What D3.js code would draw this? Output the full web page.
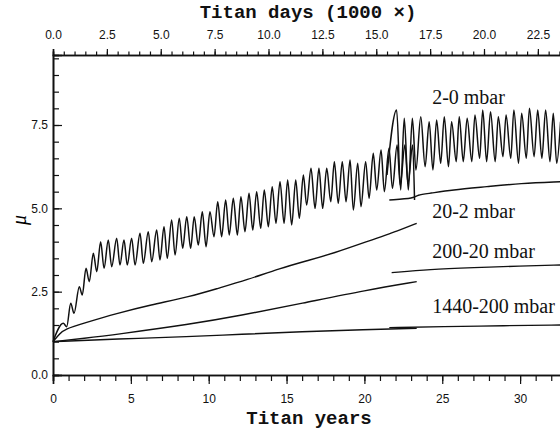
<!DOCTYPE html>
<html>
<head>
<meta charset="utf-8">
<script src="https://cdn.jsdelivr.net/npm/d3@7"></script>
<style>
  body { margin: 0; background: #fff; }
  .tick-label { font-family: "Liberation Sans", Arial, sans-serif; font-size: 12px; fill: #111; }
  .axis-title { font-family: "Liberation Mono", "DejaVu Sans Mono", monospace; font-weight: bold; font-size: 19px; fill: #111; }
  .series-label { font-family: "Liberation Serif", "Times New Roman", serif; font-size: 20px; fill: #111; }
</style>
</head>
<body>
<div id="chart"></div>
<script>
// mu.js

const chart_w = 560;
const chart_h = 433;

// 2-0 mbar, first run [Titan years, mu] (peaks and troughs)
const mu2_0a = [
    [0, 1.0], [0.66, 1.55], [0.88, 1.45], [1.14, 2.15], [1.35, 1.85], [1.69, 2.65], [1.88, 2.4],
    [2.12, 3.2], [2.33, 2.8], [2.59, 3.65], [2.81, 3.1], [3.06, 4.0], [3.28, 3.2], [3.55, 4.05],
    [3.77, 3.25], [4.09, 4.1], [4.30, 3.3], [4.56, 4.05], [4.77, 3.3], [5.05, 4.1], [5.27, 3.3],
    [5.59, 4.25], [5.80, 3.35], [6.12, 4.3], [6.34, 3.4], [6.66, 4.35], [6.87, 3.45], [7.13, 4.45],
    [7.34, 3.5], [7.62, 4.65], [7.84, 3.6], [8.11, 4.7], [8.33, 3.8], [8.59, 4.75], [8.84, 3.8],
    [9.07, 4.75], [9.33, 3.9], [9.59, 4.9], [9.83, 3.85], [10.08, 4.9], [10.34, 4.15], [10.58, 5.2],
    [10.83, 4.15], [11.09, 5.25], [11.32, 4.2], [11.58, 5.3], [11.84, 4.2], [12.07, 5.35], [12.33, 4.3],
    [12.59, 5.45], [12.83, 4.35], [13.08, 5.5], [13.34, 4.4], [13.57, 5.55], [13.83, 4.45], [14.08, 5.65],
    [14.32, 4.55], [14.58, 5.8], [14.84, 4.55], [15.07, 5.85], [15.33, 4.5], [15.59, 5.85], [15.82, 4.7],
    [16.08, 6.0], [16.29, 5.1], [16.57, 6.2], [16.83, 5.0], [17.08, 6.2], [17.32, 5.0], [17.58, 6.2],
    [17.84, 5.2], [18.07, 6.4], [18.32, 5.15], [18.58, 6.4], [18.82, 5.2], [19.08, 6.45], [19.29, 4.95],
    [19.57, 6.35], [19.78, 5.05], [20.08, 6.4], [20.30, 5.3], [20.57, 6.65], [20.79, 5.55], [21.07, 6.75],
    [21.28, 5.5], [21.58, 6.8], [21.8, 5.6], [22.1, 6.9], [22.3, 5.7], [22.6, 6.9], [22.8, 5.75],
    [23.1, 6.9], [23.22, 5.25]
];

// 2-0 mbar, second run
const mu2_0b = [
    [21.45, 6.0], [22.07, 7.95], [22.33, 5.55], [22.56, 7.7], [22.82, 5.55], [23.08, 7.7], [23.31, 6.15],
    [23.62, 7.75], [23.9, 6.25], [24.16, 7.6], [24.4, 6.15], [24.64, 7.65], [24.9, 6.35], [25.13, 7.75],
    [25.4, 6.25], [25.6, 7.6], [25.9, 6.4], [26.09, 7.75], [26.35, 6.4], [26.6, 7.7], [26.9, 6.4],
    [27.1, 7.8], [27.4, 6.5], [27.6, 7.95], [27.85, 6.4], [28.1, 7.9], [28.4, 6.4], [28.6, 7.75],
    [28.9, 6.55], [29.1, 7.8], [29.4, 6.5], [29.6, 7.95], [29.9, 6.35], [30.1, 7.85], [30.4, 6.5],
    [30.6, 8.0], [30.9, 6.55], [31.13, 7.95], [31.4, 6.5], [31.64, 7.95], [31.92, 6.4], [32.13, 7.85],
    [32.35, 6.35], [32.6, 7.6]
];

// 20-2 mbar
const mu20_2a = [
    [0, 1.0], [0.45, 1.25], [0.77, 1.38], [1.95, 1.55], [4.1, 1.85], [6.24, 2.1], [8.8, 2.35],
    [10.6, 2.6], [12.44, 2.85], [14.58, 3.2], [16.5, 3.45], [18.0, 3.65], [20.15, 4.0], [22.3, 4.35],
    [23.36, 4.55]
];
const mu20_2b = [
    [21.6, 5.25], [23.25, 5.3], [23.35, 5.4], [24.2, 5.45], [25.6, 5.55], [27.9, 5.65], [30.0, 5.75],
    [32.6, 5.8]
];

// 200-20 mbar
const mu200_20a = [
    [0, 1.0], [2, 1.1], [4.1, 1.22], [8.8, 1.52], [12, 1.78], [16, 2.15], [20.15, 2.55], [23.36, 2.8]
];
const mu200_20b = [
    [21.75, 3.07], [24.2, 3.17], [27, 3.22], [30, 3.27], [32.6, 3.3]
];

// 1440-200 mbar
const mu1440_200a = [
    [0, 1.0], [4.1, 1.08], [8.8, 1.15], [12, 1.22], [16, 1.3], [20, 1.36], [23.36, 1.4]
];
const mu1440_200b = [
    [21.6, 1.42], [25, 1.45], [29, 1.48], [32.6, 1.5]
];

const seriesLabels = [
    { text: "2-0 mbar", year: 24.35, mu: 8.13 },
    { text: "20-2 mbar", year: 24.35, mu: 4.71 },
    { text: "200-20 mbar", year: 24.35, mu: 3.51 },
    { text: "1440-200 mbar", year: 24.35, mu: 1.86 }
];

const yearMajor = [0, 5, 10, 15, 20, 25, 30];
const daysMajor = [0, 2.5, 5, 7.5, 10, 12.5, 15, 17.5, 20, 22.5];
const muMajor = [0, 2.5, 5, 7.5];

const svg = d3.select("#chart")
    .append("svg")
    .attr("width", chart_w)
    .attr("height", chart_h);

// scales
const x = d3.scaleLinear().domain([0, 35]).range([53, 53 + 15.57 * 35]);
const xTop = d3.scaleLinear().domain([0, 25]).range([53, 53 + 21.55 * 25]);
const y = d3.scaleLinear().domain([0, 9.6]).range([375, 55]);

// axes
const bottomAxis = d3.axisBottom(x).tickValues(yearMajor).tickSize(9).tickFormat(d3.format("d"));
const bottomMinor = d3.axisBottom(x).tickValues(d3.range(0, 33, 1)).tickSize(6).tickFormat("");
const topAxis = d3.axisTop(xTop).tickValues(daysMajor).tickSize(6).tickFormat(d3.format(".1f"));
const topMinor = d3.axisTop(xTop).tickValues(d3.range(0, 24, 0.5)).tickSize(3.5).tickFormat("");
const leftAxis = d3.axisLeft(y).tickValues(muMajor).tickSize(-9).tickFormat(d3.format(".1f"));
const leftMinor = d3.axisLeft(y).tickValues(d3.range(0, 9.6, 0.5)).tickSize(-6).tickFormat("");

function styleAxis(g) {
    g.select(".domain").attr("stroke", "#111").attr("stroke-width", 1.6);
    g.selectAll(".tick line").attr("stroke", "#111").attr("stroke-width", 1.2);
    g.selectAll(".tick text").attr("class", "tick-label").attr("font-family", null).attr("font-size", null);
}

svg.append("g").attr("transform", "translate(0,375)").call(bottomMinor).call(styleAxis);
svg.append("g").attr("transform", "translate(0,375)").call(bottomAxis).call(styleAxis)
    .selectAll(".tick text").attr("dy", "1.3em");
svg.append("g").attr("transform", "translate(0,55)").call(topMinor).call(styleAxis);
svg.append("g").attr("transform", "translate(0,55)").call(topAxis).call(styleAxis)
    .selectAll(".tick text").attr("dy", "-0.55em");
svg.append("g").attr("transform", "translate(53,0)").call(leftMinor).call(styleAxis);
svg.append("g").attr("transform", "translate(53,0)").call(leftAxis).call(styleAxis)
    .selectAll(".tick text").attr("x", -5);

// axis titles
svg.append("text")
    .attr("class", "axis-title")
    .attr("x", 308)
    .attr("y", 18)
    .attr("text-anchor", "middle")
    .text("Titan days (1000 \u00d7)");

svg.append("text")
    .attr("class", "axis-title")
    .attr("x", 309)
    .attr("y", 424)
    .attr("text-anchor", "middle")
    .text("Titan years");

svg.append("text")
    .attr("transform", "translate(26,220) rotate(-90)")
    .attr("text-anchor", "middle")
    .attr("font-family", "Liberation Serif, serif")
    .attr("font-style", "italic")
    .attr("font-size", "20px")
    .text("\u03bc");

// curves
const plot = svg.append("g");

const line = d3.line()
    .x(d => x(d[0]))
    .y(d => y(d[1]))
    .curve(d3.curveMonotoneX);

const smooth = d3.line()
    .x(d => x(d[0]))
    .y(d => y(d[1]))
    .curve(d3.curveBasis);

[mu2_0a, mu2_0b].forEach(run => {
    plot.append("path")
        .datum(run)
        .attr("fill", "none")
        .attr("stroke", "#111")
        .attr("stroke-width", 1.5)
        .attr("d", line);
});

[mu20_2a, mu20_2b, mu200_20a, mu200_20b, mu1440_200a, mu1440_200b].forEach(run => {
    plot.append("path")
        .datum(run)
        .attr("fill", "none")
        .attr("stroke", "#111")
        .attr("stroke-width", 1.4)
        .attr("d", smooth);
});

// series labels
svg.selectAll(".series-label")
    .data(seriesLabels)
    .join("text")
    .attr("class", "series-label")
    .attr("x", d => x(d.year))
    .attr("y", d => y(d.mu))
    .text(d => d.text);
</script>
</body>
</html>
